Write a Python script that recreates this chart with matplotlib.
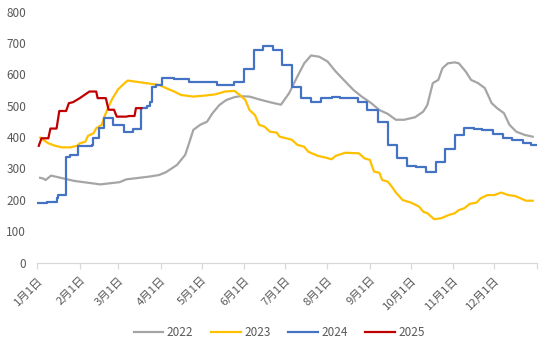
import matplotlib
matplotlib.use("Agg")
import matplotlib.pyplot as plt

plt.rcParams["font.family"] = ["Noto Sans CJK SC", "DejaVu Sans"]

# Day of year (0 = Jan 1) and price values for each year
days_2022 = [2, 4, 6, 10, 27, 46, 60, 65, 82, 89, 94, 102, 105, 108, 110, 114, 119, 124,
             128, 133, 138, 144, 148, 155, 162, 170, 178, 184, 190, 195, 200, 206, 212,
             218, 225, 231, 237, 244, 250, 256, 262, 268, 276, 282, 285, 289, 293, 296,
             300, 305, 308, 313, 317, 322, 327, 332, 336, 341, 345, 350, 356, 362]
vals_2022 = [270, 268, 263, 277, 260, 249, 256, 265, 274, 279, 288, 311, 327, 343, 369, 423,
             439, 449, 476, 502, 518, 527, 530, 529, 520, 511, 503, 540, 593, 635, 660, 656,
             641, 609, 577, 550, 529, 508, 486, 474, 455, 455, 463, 481, 502, 572, 582, 619,
             635, 638, 635, 609, 582, 572, 556, 508, 492, 476, 439, 417, 407, 401]

days_2023 = [2, 8, 13, 18, 24, 29, 31, 35, 37, 41, 43, 47, 49, 52, 55, 59, 63, 66, 71, 79,
             86, 89, 94, 100, 105, 114, 122, 130, 137, 144, 148, 152, 155, 159, 162, 166,
             170, 175, 177, 182, 186, 190, 195, 198, 205, 211, 215, 218, 225, 235, 239, 243,
             246, 250, 252, 256, 259, 262, 267, 273, 279, 282, 285, 290, 295, 301, 305, 308,
             312, 316, 321, 324, 329, 334, 339, 344, 349, 353, 357, 362]
vals_2023 = [398, 380, 372, 367, 367, 372, 380, 385, 404, 412, 428, 439, 465, 497, 524, 552,
             569, 580, 577, 572, 568, 566, 556, 545, 534, 529, 532, 536, 545, 547, 534, 518,
             486, 470, 439, 433, 417, 414, 401, 396, 391, 375, 369, 353, 340, 334, 329, 340,
             350, 348, 332, 327, 290, 286, 263, 258, 242, 223, 199, 191, 178, 162, 157, 138,
             141, 152, 157, 167, 173, 187, 191, 205, 215, 215, 223, 215, 212, 205, 197, 197]

# 2024 is published weekly: each value holds until the next update
days_2024 = [0, 7, 14, 15, 21, 24, 30, 40, 41, 45, 49, 55, 63, 70, 76, 80, 82, 84, 87, 91,
             100, 111, 120, 131, 144, 151, 158, 165, 172, 179, 186, 193, 200, 207, 215, 221,
             234, 241, 249, 256, 263, 270, 277, 284, 291, 298, 305, 312, 319, 325, 333, 340,
             347, 355, 361, 365]
vals_2024 = [189, 194, 205, 215, 335, 343, 372, 375, 396, 428, 460, 439, 417, 425, 492, 499,
             513, 561, 566, 588, 584, 577, 574, 566, 574, 616, 678, 689, 676, 630, 558, 526,
             513, 524, 529, 524, 513, 486, 449, 375, 332, 308, 306, 288, 320, 362, 406, 428,
             426, 421, 410, 396, 389, 380, 373, 373]

days_2025 = [1, 3, 8, 9.5, 14, 16, 21, 23, 26, 31, 35, 38, 43, 44, 50, 52, 56, 58, 65, 67,
             71, 72, 76]
vals_2025 = [372, 396, 396, 427, 427, 483, 483, 508, 511, 524, 536, 545, 545, 524, 524, 487,
             487, 465, 465, 467, 467, 492, 492]

month_starts = [0, 31, 59, 90, 120, 151, 181, 212, 243, 273, 304, 334]
month_labels = [f"{m}月1日" for m in range(1, 13)]
y_ticks = list(range(0, 801, 100))

text_color = "#595959"
axis_color = "#d9d9d9"

fig = plt.figure(figsize=(5.5, 3.5), dpi=100)
ax = fig.add_axes([0.068, 0.25, 0.908, 0.717])

ax.plot(days_2022, vals_2022, color="#A5A5A5", lw=1.6, label="2022")
ax.plot(days_2023, vals_2023, color="#FFC000", lw=1.6, label="2023")
ax.plot(days_2024, vals_2024, color="#4472C4", lw=1.6, label="2024", drawstyle="steps-post")
ax.plot(days_2025, vals_2025, color="#C00000", lw=1.6, label="2025")

ax.set_xlim(0, 365)
ax.set_ylim(0, 800)
ax.set_yticks(y_ticks)
ax.set_xticks(month_starts)
ax.set_xticks([365], minor=True)
ax.set_xticklabels(month_labels, rotation=45, ha="right", va="top",
                   rotation_mode="anchor")

for side in ("top", "right", "left"):
    ax.spines[side].set_visible(False)
ax.spines["bottom"].set_color(axis_color)
ax.spines["bottom"].set_linewidth(0.9)

ax.tick_params(axis="y", length=0, pad=8, labelsize=8.5, labelcolor=text_color)
ax.tick_params(axis="x", which="both", length=4, width=0.9, color=axis_color,
               direction="out", pad=5, labelsize=8.2, labelcolor=text_color)

leg = fig.legend(loc="center", bbox_to_anchor=(0.508, 0.049), ncol=4, frameon=False,
                 fontsize=8.5, handlelength=2.5, handletextpad=0.3, columnspacing=1.5)
for t in leg.get_texts():
    t.set_color(text_color)

fig.savefig("out.png", dpi=100)
